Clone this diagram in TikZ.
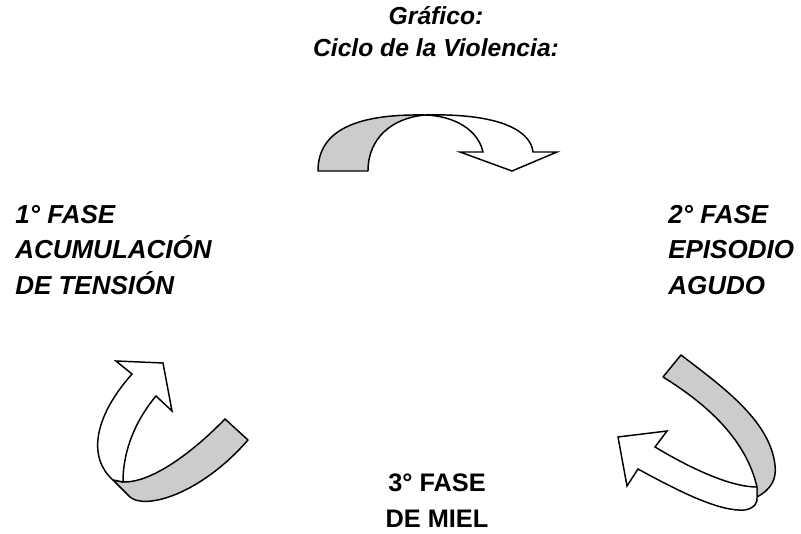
\documentclass[tikz,border=0pt]{standalone}
\usepackage{fontspec}
\setmainfont{Liberation Sans}
\usetikzlibrary{positioning}

\tikzset{
  band/.style={draw, line width=1.1pt, line join=round, fill=black!20},
  face/.style={draw, line width=1.1pt, line join=miter, fill=white},
  phasetext/.style={inner sep=0pt, font=\fontsize{19.5}{26.5}\selectfont\bfseries\itshape}
}

\begin{document}
\begin{tikzpicture}[x=0.75pt, y=-0.75pt] % 1 unit = 1 pixel, y downwards
  \useasboundingbox (0,0) rectangle (801,534);

  % Title
  \node (title) [phasetext, align=center, font=\fontsize{18.5}{24}\selectfont\bfseries\itshape] at (436,32)
      {Gráfico:\\ Ciclo de la Violencia:};

  % Phase labels
  \node (phase1) [phasetext, align=left, anchor=west] at (15,250) {1° FASE\\ ACUMULACIÓN\\ DE TENSIÓN};
  \node (phase2) [phasetext, align=left, anchor=west] at (668,250) {2° FASE\\ EPISODIO\\ AGUDO};
  \node (phase3) [phasetext, align=center, font=\fontsize{19}{27}\selectfont\bfseries] at (437,501) {3° FASE\\ DE MIEL};

  % Top arrow: phase 1 to phase 2
  \draw[band] (318,171) .. controls (318,126) and (365,114) .. (425,115)
      .. controls (392,118) and (368,138) .. (368,171) -- cycle;
  \draw[face] (425,115) .. controls (505,113) and (531,133) .. (533,152)
      -- (557,152) -- (512,171) -- (460,152) -- (483,152)
      .. controls (478,130) and (455,116) .. (425,115) -- cycle;

  % Right arrow: phase 2 to phase 3
  \draw[band] (681,355) -- (663,377) .. controls (700,400) and (745,435) .. (757,487)
      -- (757,497) .. controls (770,490) and (777,480) .. (775,465)
      .. controls (770,420) and (720,385) .. (681,355) -- cycle;
  \draw[face] (757,487) .. controls (730,487) and (690,468) .. (655,447)
      -- (667,431) -- (618,437) -- (627,486) -- (638,469)
      .. controls (680,492) and (720,512) .. (745,510)
      .. controls (755,508) and (758,502) .. (757,497) -- cycle;

  % Left arrow: phase 3 to phase 1
  \draw[band] (225,419) -- (248,440) .. controls (200,495) and (145,510) .. (130,497)
      -- (113,480) -- (123,482) .. controls (150,483) and (190,455) .. (225,419) -- cycle;
  \draw[face] (113,480) .. controls (88,458) and (93,418) .. (132,374)
      -- (116,361) -- (163,363) -- (172,411) -- (156,396)
      .. controls (140,415) and (123,445) .. (123,482) -- cycle;
\end{tikzpicture}
\end{document}
